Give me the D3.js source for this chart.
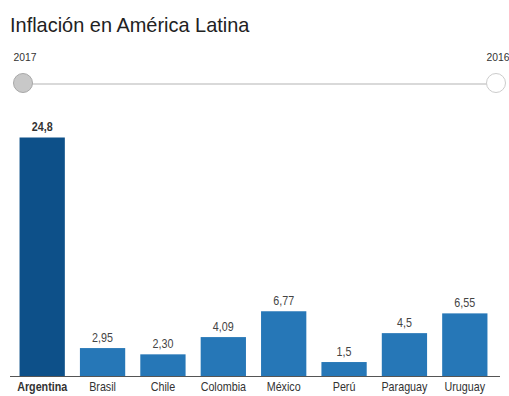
<!DOCTYPE html>
<html>
<head>
<meta charset="utf-8">
<script src="https://cdn.jsdelivr.net/npm/d3@7"></script>
<style>
  body { margin: 0; background: #fff; }
  svg { display: block; font-family: "Liberation Sans", Arial, sans-serif; }
</style>
</head>
<body>
<div id="chart"></div>
<script>
// Inflación en América Latina (2017)
const WIDTH = 509;
const HEIGHT = 396;

const countries = ["Argentina", "Brasil", "Chile", "Colombia", "México", "Perú", "Paraguay", "Uruguay"];
const values = [24.8, 2.95, 2.30, 4.09, 6.77, 1.5, 4.5, 6.55];
const valueLabels = ["24,8", "2,95", "2,30", "4,09", "6,77", "1,5", "4,5", "6,55"];
const years = ["2017", "2016"];
const highlight = "Argentina";

const data = countries.map((c, i) => ({ country: c, value: values[i], label: valueLabels[i] }));

// the original uses a narrow font: squeeze text horizontally
const NARROW = 0.86;

const svg = d3.select("#chart")
  .append("svg")
  .attr("width", WIDTH)
  .attr("height", HEIGHT);

// Title
svg.append("text")
  .attr("transform", "translate(10,32) scale(0.95,1)")
  .attr("font-size", 21)
  .attr("fill", "#222")
  .text("Inflación en América Latina");

// ---- Year slider ----
const sliderY = 83;
const sliderScale = d3.scalePoint()
  .domain(years)
  .range([23, 496]);

svg.append("line")
  .attr("x1", sliderScale(years[0]))
  .attr("x2", sliderScale(years[1]))
  .attr("y1", sliderY + 1)
  .attr("y2", sliderY + 1)
  .attr("stroke", "#ccc")
  .attr("stroke-width", 1.5);

svg.selectAll(".year-label")
  .data(years)
  .join("text")
  .attr("class", "year-label")
  .attr("transform", (d) => `translate(${sliderScale(d) + 2},61) scale(0.9,1)`)
  .attr("text-anchor", "middle")
  .attr("font-size", 11.5)
  .attr("fill", "#333")
  .text((d) => d);

svg.selectAll(".handle")
  .data(years)
  .join("circle")
  .attr("class", "handle")
  .attr("cx", (d) => sliderScale(d))
  .attr("cy", sliderY)
  .attr("r", 9.5)
  .attr("fill", (d, i) => (i === 0 ? "#c8c8c8" : "#fff"))
  .attr("stroke", (d, i) => (i === 0 ? "#a8a8a8" : "#ccc"))
  .attr("stroke-width", 1);

// ---- Bars ----
const baseY = 376.5;
const topY = 137.5;

const x = d3.scaleBand()
  .domain(countries)
  .range([12, 495])
  .paddingInner(0.25)
  .paddingOuter(0.125);

const y = d3.scaleLinear()
  .domain([0, 24.8])
  .range([baseY, topY]);

const g = svg.append("g");

g.selectAll("rect")
  .data(data)
  .join("rect")
  .attr("x", (d) => x(d.country))
  .attr("y", (d) => y(d.value))
  .attr("width", x.bandwidth())
  .attr("height", (d) => baseY - y(d.value))
  .attr("fill", (d) => (d.country === highlight ? "#0d5089" : "#2677b7"));

g.selectAll(".val")
  .data(data)
  .join("text")
  .attr("class", "val")
  .attr("transform", (d) => `translate(${x(d.country) + x.bandwidth() / 2},${y(d.value) - 6.5}) scale(${NARROW},1)`)
  .attr("text-anchor", "middle")
  .attr("font-size", 12.5)
  .attr("font-weight", (d) => (d.country === highlight ? "bold" : "normal"))
  .attr("fill", (d) => (d.country === highlight ? "#333" : "#444"))
  .text((d) => d.label);

// baseline axis
const xAxis = d3.axisBottom(x).tickSize(0).tickPadding(6);
const axisG = svg.append("g")
  .attr("transform", `translate(0,${baseY})`)
  .call(xAxis);

axisG.select(".domain")
  .attr("d", "M10,0H500")
  .attr("stroke", "#555")
  .attr("stroke-width", 1.2);

axisG.selectAll(".tick text")
  .attr("font-size", 12.5)
  .attr("font-family", null)
  .attr("fill", "#333")
  .attr("transform", `scale(${NARROW},1)`)
  .attr("font-weight", (d) => (d === highlight ? "bold" : "normal"));
</script>
</body>
</html>
